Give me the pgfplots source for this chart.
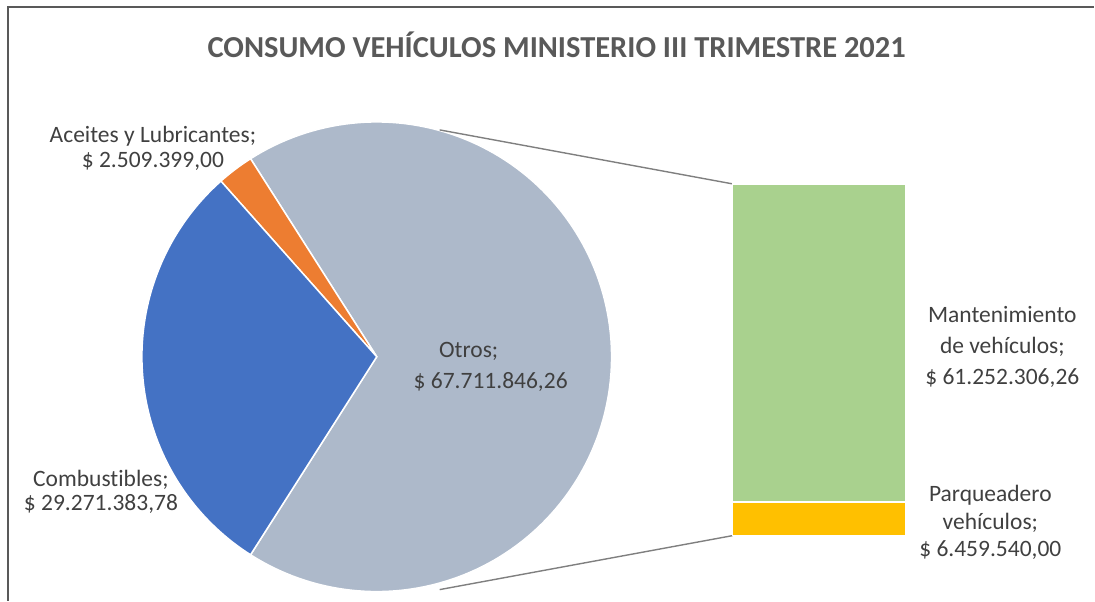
\documentclass[border=0pt]{standalone}
\usepackage{fontspec}
\setmainfont{Carlito}[Ligatures=NoCommon]
\usepackage{pgfplots}
\pgfplotsset{compat=1.18}
\definecolor{cOtros}{HTML}{ADB9CA}
\definecolor{cComb}{HTML}{4472C4}
\definecolor{cAce}{HTML}{ED7D31}
\definecolor{cMant}{HTML}{A9D18E}
\definecolor{cParq}{HTML}{FFC000}
\definecolor{txt}{HTML}{404040}
\definecolor{ttl}{HTML}{595959}
\definecolor{conn}{HTML}{7F7F7F}
% values in millions of pesos
\def\vAce{2.509399}
\def\vComb{29.27138378}
\def\vOtros{67.71184626}
\def\vMant{61.25230626}
\def\vParq{6.45954}
\begin{document}
\begin{tikzpicture}
\pgfmathsetmacro{\tot}{\vAce+\vComb+\vOtros}
\pgfmathsetmacro{\aO}{360*(\vOtros/\tot)}
\pgfmathsetmacro{\aA}{360*(\vAce/\tot)}
\pgfmathsetmacro{\sO}{-\aO/2}
\pgfmathsetmacro{\eO}{\aO/2}
\pgfmathsetmacro{\eA}{\eO+\aA}
\pgfmathsetmacro{\eC}{360+\sO}
\begin{axis}[at={(0pt,0pt)}, anchor=south west, scale only axis,
  width=1095pt, height=601pt, xmin=0, xmax=1095, ymin=0, ymax=601,
  y dir=reverse, hide axis, clip=false]
\path (axis cs:0,0) rectangle (axis cs:1095,601);
% frame
\draw[ttl, line width=1.5pt] (axis cs:8,601) -- (axis cs:8,7) -- (axis cs:1095,7);
% pie
\addplot[fill=cOtros, draw=white, line width=1.5pt, domain=\sO:\eO, samples=150, variable=\t]
  ({377+235*cos(\t)}, {357-235*sin(\t)}) -- (axis cs:377,357) -- cycle;
\addplot[fill=cAce, draw=white, line width=1.5pt, domain=\eO:\eA, samples=20, variable=\t]
  ({377+235*cos(\t)}, {357-235*sin(\t)}) -- (axis cs:377,357) -- cycle;
\addplot[fill=cComb, draw=white, line width=1.5pt, domain=\eA:\eC, samples=80, variable=\t]
  ({377+235*cos(\t)}, {357-235*sin(\t)}) -- (axis cs:377,357) -- cycle;
% connector lines
\draw[conn, line width=1.4pt] (axis cs:440,130) -- (axis cs:733,184);
\draw[conn, line width=1.4pt] (axis cs:440,590) -- (axis cs:733,536);
% title
\node[font=\fontsize{30.5}{34}\selectfont\bfseries, text=ttl] at (axis cs:557,45)
  {CONSUMO VEHÍCULOS MINISTERIO III TRIMESTRE 2021};
% labels
\node[font=\fontsize{23.5}{25}\selectfont, text=txt, align=center] at (axis cs:153,148)
  {Aceites y Lubricantes;\\\$ 2.509.399,00};
\node[font=\fontsize{23.5}{24.5}\selectfont, text=txt, align=center] at (axis cs:101,492)
  {Combustibles;\\\$ 29.271.383,78};
\node[font=\fontsize{23.5}{24}\selectfont, text=txt] at (axis cs:469,352) {Otros;};
\node[font=\fontsize{23.5}{24}\selectfont, text=txt] at (axis cs:491,382) {\$ 67.711.846,26};
\node[font=\fontsize{23.5}{31}\selectfont, text=txt, align=center] at (axis cs:1003,347)
  {Mantenimiento\\de vehículos;\\\$ 61.252.306,26};
\node[font=\fontsize{23.5}{27.5}\selectfont, text=txt, align=center] at (axis cs:991,523)
  {Parqueadero\\vehículos;\\\$ 6.459.540,00};
\end{axis}
\begin{axis}[at={(733pt,65pt)}, anchor=south west, scale only axis,
  width=173pt, height=352pt, xmin=0, xmax=1, ymin=0, ymax=\vOtros,
  hide axis, ybar stacked, bar width=173pt, clip=false]
\addplot[fill=cParq, draw=white, line width=1.5pt] coordinates {(0.5,\vParq)};
\addplot[fill=cMant, draw=white, line width=1.5pt] coordinates {(0.5,\vMant)};
\end{axis}
\end{tikzpicture}
\end{document}
